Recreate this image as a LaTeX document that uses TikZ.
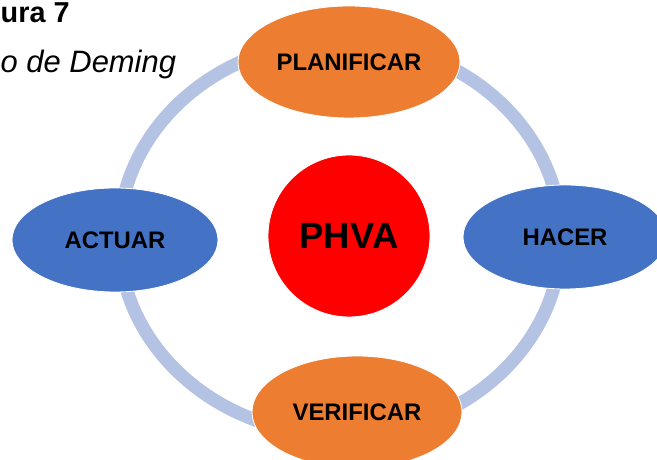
\documentclass[tikz,border=0pt]{standalone}
\usepackage{fontspec}
\setmainfont{Liberation Sans}
\usetikzlibrary{shapes.geometric}
\definecolor{planfill}{HTML}{ED7D31}
\definecolor{actfill}{HTML}{4472C4}
\definecolor{ringline}{HTML}{B4C2E3}
\definecolor{corefill}{HTML}{FF0000}
\definecolor{ink}{HTML}{000000}

\begin{document}
\begin{tikzpicture}[
  fase/.style={ellipse, draw=white, line width=0.6pt, inner sep=0pt, text=ink,
               font=\fontsize{17}{20}\selectfont\bfseries},
  naranja/.style={fase, fill=planfill},
  azul/.style={fase, fill=actfill},
  nucleo/.style={circle, fill=corefill, draw=white, line width=0.6pt, minimum size=4.05cm,
                 inner sep=0pt, text=ink, font=\fontsize{26}{30}\selectfont\bfseries},
  anillo/.style={draw=ringline, line width=0.33cm},
  titulo/.style={anchor=base west, inner sep=0pt, text=ink},
]
\useasboundingbox (0,0) rectangle (16.425,11.5);

% ===== caption (top left) =====
\node[titulo, font=\fontsize{20.5}{24}\selectfont\bfseries] (fig) at (0.01,10.925) {ura 7};
\node[titulo, font=\fontsize{22}{26}\selectfont\itshape] (nombre) at (0.01,9.675) {o de Deming};

% ===== ring behind the phases =====
\coordinate (centro) at (8.5,5.55);
\draw[anillo] (centro) ellipse[x radius=5.525cm, y radius=4.925cm];

% ===== phases =====
\node[naranja, minimum width=5.55cm, minimum height=2.8cm] (plan)   at (8.725,9.95) {PLANIFICAR};
\node[azul,    minimum width=5.1cm,  minimum height=2.6cm] (hacer)  at (14.125,5.575) {HACER};
\node[naranja, minimum width=5.25cm, minimum height=2.8cm] (verif)  at (8.925,1.2) {VERIFICAR};
\node[azul,    minimum width=5.15cm, minimum height=2.6cm] (actuar) at (2.875,5.5) {ACTUAR};

% ===== centre =====
\node[nucleo] (phva) at (8.725,5.6) {PHVA};

\end{tikzpicture}
\end{document}
